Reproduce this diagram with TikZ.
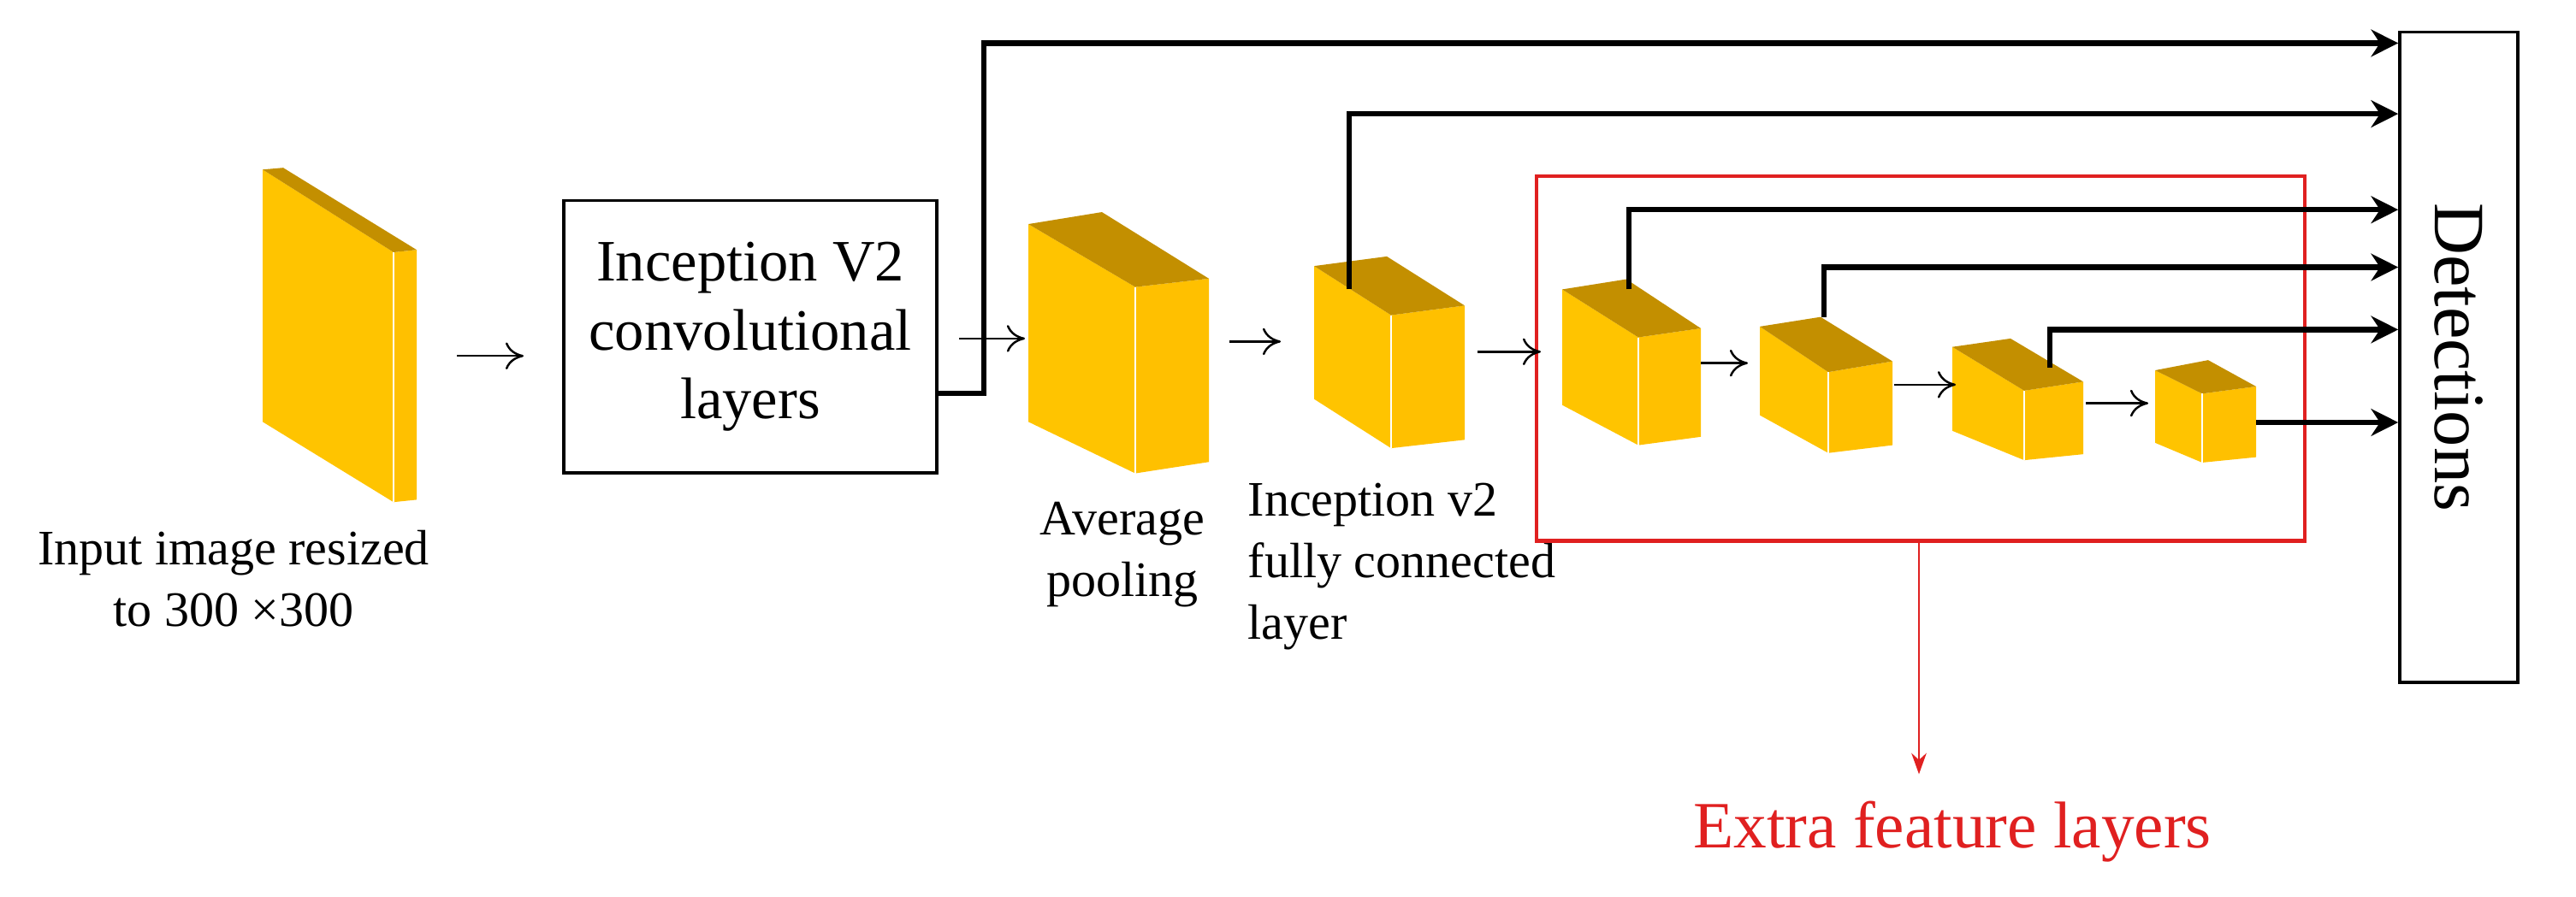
\documentclass[tikz,border=0pt]{standalone}
\usepackage{fontspec}
\setmainfont{Liberation Serif}
\usetikzlibrary{arrows.meta,calc}
\definecolor{yl}{HTML}{FFC400}
\definecolor{yr}{HTML}{FFC000}
\definecolor{yt}{HTML}{C38F00}
\definecolor{rd}{HTML}{E02020}
\tikzset{
  thin arr/.style={line width=0.7pt,-{To[length=6pt,width=9pt]}},
  thick arr/.style={line width=1.8pt,-{Stealth[length=9pt,width=9pt]}},
  lbl/.style={font=\fontsize{16.5}{20.5}\selectfont,align=center,inner sep=0pt},
}
\newcommand{\mycube}[8]{%
  \fill[yl] #2 -- #5 -- #6 -- #8 -- cycle;
  \fill[yr] #5 -- #4 -- #7 -- #6 -- cycle;
  \fill[yt] #2 -- #3 -- #4 -- #5 -- cycle;
  \draw[white,line width=0.5pt] #5 -- #6;
  \coordinate (#1top) at ($#3!0.5!#5$);
}
\begin{document}
\begin{tikzpicture}[x=0.01cm,y=-0.007cm]
\useasboundingbox (0,0) rectangle (3011,1497);
\mycube{in}{(307,283)}{(331,280)}{(487,417)}{(460,421)}{(460,838)}{(487,834)}{(307,704)}
\mycube{ap}{(1202,374)}{(1288,354)}{(1413,465)}{(1327,479)}{(1327,790)}{(1413,771)}{(1202,704)}
\mycube{fc}{(1536,444)}{(1621,428)}{(1712,510)}{(1626,526)}{(1626,748)}{(1712,734)}{(1536,666)}
\mycube{ca}{(1826,483)}{(1901,466)}{(1988,548)}{(1915,563)}{(1915,743)}{(1988,729)}{(1826,676)}
\mycube{cb}{(2057,545)}{(2128,529)}{(2212,603)}{(2137,621)}{(2137,756)}{(2212,743)}{(2057,693)}
\mycube{cc}{(2282,579)}{(2350,565)}{(2435,637)}{(2366,652)}{(2366,768)}{(2435,758)}{(2282,719)}
\mycube{cd}{(2519,618)}{(2581,601)}{(2637,645)}{(2574,657)}{(2574,772)}{(2637,763)}{(2519,739)}

\node[draw,line width=1pt,inner sep=0pt,minimum width=4.36cm,minimum height=3.18cm,
  font=\fontsize{19.5}{23}\selectfont,align=center] (conv) at (877,562) {Inception V2\\convolutional\\layers};
\node[draw,line width=1pt,minimum width=1.38cm,minimum height=7.6cm,inner sep=0pt] (det) at (2874,596) {};
\node[rotate=-90,font=\fontsize{24}{24}\selectfont] (dett) at (2874,596) {Detections};

\node[lbl] (inl) at (273,965) {Input image resized\\to 300 ×300};
\node[lbl] (apl) at (1312,925) {Average\\pooling};
\node[lbl,align=left,anchor=north west] (fcl) at (1458,805) {Inception v2\\fully connected\\layer};

\node[draw=rd,line width=1.2pt,minimum width=8.98cm,minimum height=4.26cm,inner sep=0pt] (red) at (2245,598.5) {};
\node[text=rd,font=\fontsize{22}{22}\selectfont] (efl) at (2282,1388) {Extra feature layers};
\coordinate (redb) at (2243,903);
\coordinate (rede) at (2243,1292);
\draw[rd,line width=0.6pt,-{Stealth[length=7pt,width=5pt]}] (redb) -- (rede);

\coordinate (a1s) at (534,594); \coordinate (a1e) at (612,594);
\coordinate (a2s) at (1121,565); \coordinate (a2e) at (1198,565);
\coordinate (a3s) at (1437,570); \coordinate (a3e) at (1497,570);
\coordinate (a4s) at (1727,587); \coordinate (a4e) at (1801,587);
\coordinate (a5s) at (1988,606); \coordinate (a5e) at (2043,606);
\coordinate (a6s) at (2214,642); \coordinate (a6e) at (2286,642);
\coordinate (a7s) at (2438,673); \coordinate (a7e) at (2511,673);
\foreach \i in {1,...,7} \draw[thin arr] (a\i s) -- (a\i e);

\coordinate (c0) at (1095,656);
\draw[thick arr] (c0) -- (1150,656) -- (1150,72) -- (det.west |- 0,72);
\coordinate (c1) at (1577,483);
\draw[thick arr] (c1) -- (1577,190) -- (det.west |- 0,190);
\coordinate (c2) at (1904,483);
\draw[thick arr] (c2) -- (1904,350) -- (det.west |- 0,350);
\coordinate (c3) at (2132,529);
\draw[thick arr] (c3) -- (2132,446) -- (det.west |- 0,446);
\coordinate (c4) at (2396,613);
\draw[thick arr] (c4) -- (2396,550) -- (det.west |- 0,550);
\coordinate (c5) at (2637,705);
\draw[thick arr] (c5) -- (det.west |- 0,705);
\end{tikzpicture}
\end{document}
